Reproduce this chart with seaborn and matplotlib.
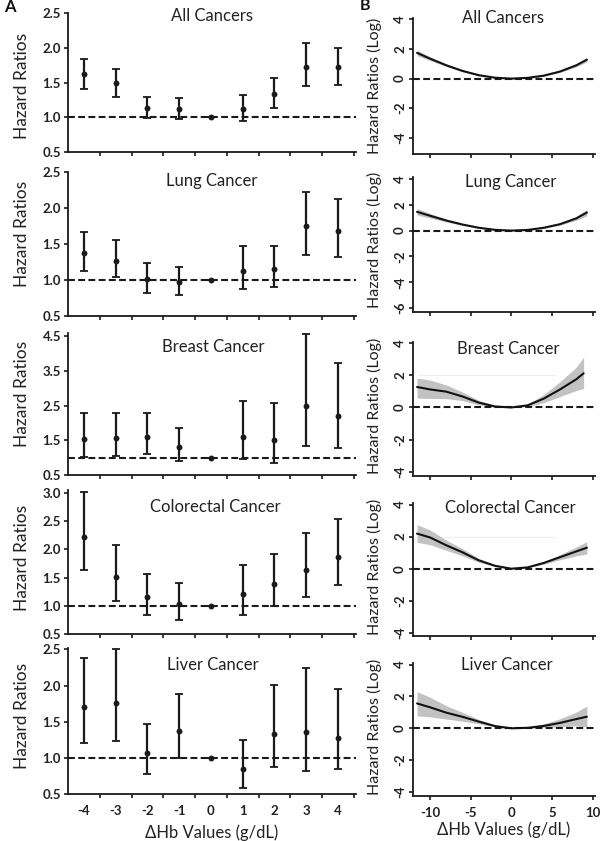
import numpy as np
import pandas as pd
import matplotlib
matplotlib.use("Agg")
import matplotlib.pyplot as plt
import seaborn as sns
from matplotlib.ticker import FixedLocator

# ---------------- data ----------------
dhb_levels = [-4, -3, -2, -1, 0, 1, 2, 3, 4]
cancer_types = ["All Cancers", "Lung Cancer", "Breast Cancer", "Colorectal Cancer", "Liver Cancer"]

# Panel A: hazard ratios with 95% CI by ΔHb level
all_hr = [1.62, 1.49, 1.13, 1.12, 1.00, 1.12, 1.34, 1.73, 1.72]
all_lo = [1.41, 1.29, 0.99, 0.97, 1.00, 0.94, 1.14, 1.45, 1.47]
all_hi = [1.84, 1.70, 1.29, 1.27, 1.00, 1.32, 1.57, 2.07, 2.00]

lung_hr = [1.37, 1.27, 1.01, 0.97, 1.00, 1.13, 1.15, 1.75, 1.68]
lung_lo = [1.13, 1.04, 0.82, 0.79, 1.00, 0.87, 0.90, 1.35, 1.32]
lung_hi = [1.66, 1.55, 1.23, 1.18, 1.00, 1.47, 1.47, 2.22, 2.13]

breast_hr = [1.55, 1.57, 1.60, 1.31, 1.00, 1.60, 1.50, 2.49, 2.20]
breast_lo = [1.02, 1.05, 1.10, 0.90, 1.00, 0.97, 0.86, 1.34, 1.29]
breast_hi = [2.30, 2.30, 2.30, 1.86, 1.00, 2.63, 2.58, 4.58, 3.74]

colo_hr = [2.22, 1.51, 1.15, 1.03, 1.00, 1.21, 1.39, 1.63, 1.86]
colo_lo = [1.63, 1.09, 0.84, 0.75, 1.00, 0.83, 1.00, 1.15, 1.36]
colo_hi = [3.01, 2.07, 1.57, 1.41, 1.00, 1.72, 1.92, 2.29, 2.54]

liver_hr = [1.70, 1.76, 1.07, 1.37, 1.00, 0.84, 1.33, 1.36, 1.28]
liver_lo = [1.21, 1.24, 0.77, 1.00, 1.00, 0.58, 0.88, 0.82, 0.84]
liver_hi = [2.38, 2.51, 1.47, 1.88, 1.00, 1.25, 2.01, 2.24, 1.95]

# Panel B: log hazard ratio curves (read at sampled ΔHb values)
curve_x = [-11.6, -10, -8, -6, -4, -2, 0, 2, 4, 6, 8, 9.3]
breast_curve_x = [-11.6, -10, -8, -6, -4, -2, 0, 2, 4, 6, 8, 8.9]

all_fit = [1.74, 1.35, 0.90, 0.52, 0.23, 0.06, 0.00, 0.05, 0.20, 0.48, 0.90, 1.28]
all_fit_lo = [1.55, 1.22, 0.81, 0.46, 0.19, 0.04, 0.00, 0.03, 0.16, 0.42, 0.80, 1.13]
all_fit_hi = [1.93, 1.48, 0.99, 0.58, 0.27, 0.08, 0.00, 0.07, 0.24, 0.55, 1.01, 1.44]

lung_fit = [1.45, 1.15, 0.78, 0.47, 0.22, 0.06, 0.00, 0.05, 0.22, 0.50, 0.95, 1.40]
lung_fit_lo = [1.20, 0.97, 0.67, 0.40, 0.18, 0.04, 0.00, 0.03, 0.17, 0.42, 0.80, 1.15]
lung_fit_hi = [1.72, 1.33, 0.89, 0.54, 0.26, 0.08, 0.00, 0.07, 0.27, 0.58, 1.10, 1.66]

breast_fit = [1.27, 1.12, 0.98, 0.68, 0.30, 0.06, 0.00, 0.13, 0.55, 1.12, 1.75, 2.12]
breast_fit_lo = [0.58, 0.56, 0.55, 0.42, 0.16, 0.02, 0.00, 0.05, 0.30, 0.68, 1.05, 1.18]
breast_fit_hi = [1.83, 1.70, 1.40, 0.95, 0.45, 0.12, 0.00, 0.22, 0.80, 1.60, 2.50, 3.12]

colo_fit = [2.19, 1.95, 1.46, 1.02, 0.52, 0.18, 0.00, 0.08, 0.36, 0.72, 1.08, 1.31]
colo_fit_lo = [1.65, 1.50, 1.15, 0.80, 0.40, 0.13, 0.00, 0.05, 0.28, 0.56, 0.80, 0.92]
colo_fit_hi = [2.75, 2.42, 1.78, 1.25, 0.64, 0.23, 0.00, 0.11, 0.44, 0.88, 1.36, 1.68]

liver_fit = [1.56, 1.32, 0.98, 0.72, 0.42, 0.14, 0.00, 0.03, 0.15, 0.34, 0.58, 0.73]
liver_fit_lo = [0.78, 0.72, 0.58, 0.45, 0.28, 0.09, 0.00, 0.01, 0.05, 0.10, 0.15, 0.10]
liver_fit_hi = [2.30, 1.95, 1.42, 1.00, 0.56, 0.19, 0.00, 0.06, 0.28, 0.60, 1.02, 1.40]

x_ticks_b = [-10, -5, 0, 5, 10]

# ---------------- style ----------------
sns.set_style("ticks")
plt.rcParams["font.family"] = ["Lato", "DejaVu Sans"]

W, H = 600, 841
fig = plt.figure(figsize=(W / 100, H / 100), dpi=100)
INK = "#1a1a1a"
TXT = "#222222"


def add_ax(l, t, r, b):
    return fig.add_axes([l / W, 1 - b / H, (r - l) / W, (b - t) / H])


rows_A = [(13, 152), (172, 316), (333, 475), (490, 634), (648, 794)]
ylims_A = [(0.5, 2.5), (0.5, 2.5), (0.5, 4.6), (0.5, 3.05), (0.5, 2.52)]
yticks_A = [[0.5, 1.0, 1.5, 2.0, 2.5], [0.5, 1.0, 1.5, 2.0, 2.5],
            [0.5, 1.5, 2.5, 3.5, 4.5], [0.5, 1.0, 1.5, 2.0, 2.5, 3.0],
            [0.5, 1.0, 1.5, 2.0, 2.5]]
title_A_xy = [(212, 16), (212, 181), (213, 347), (215, 507), (213, 665)]
ylab_A_y = [86, 234, 394, 558, 716]

rows_B = [(18, 154), (177, 312), (342, 476), (503, 636), (663, 796)]
ylims_B = [(-5.1, 4.1), (-6.3, 4.15), (-4.25, 4.06), (-4.2, 4.1), (-4.25, 4.1)]
yticks_B = [[-4, -2, 0, 2, 4], [-6, -4, -2, 0, 2, 4], [-4, -2, 0, 2, 4],
            [-4, -2, 0, 2, 4], [-4, -2, 0, 2, 4]]
title_B_xy = [(503, 18), (511, 182), (508, 349), (510, 508), (507, 665)]
ylab_B_y = [86, 240, 406, 567, 727]

hr_sets = [(all_hr, all_lo, all_hi), (lung_hr, lung_lo, lung_hi),
           (breast_hr, breast_lo, breast_hi), (colo_hr, colo_lo, colo_hi),
           (liver_hr, liver_lo, liver_hi)]
fit_sets = [(curve_x, all_fit, all_fit_lo, all_fit_hi),
            (curve_x, lung_fit, lung_fit_lo, lung_fit_hi),
            (breast_curve_x, breast_fit, breast_fit_lo, breast_fit_hi),
            (curve_x, colo_fit, colo_fit_lo, colo_fit_hi),
            (curve_x, liver_fit, liver_fit_lo, liver_fit_hi)]

tick_font = dict(fontsize=9.5, fontweight="bold", color=TXT)
dash = (0, (3.3, 1.6))

for i, name in enumerate(cancer_types):
    # ---------- Panel A ----------
    t, b = rows_A[i]
    ax = add_ax(68, t, 356, b)
    hr, lo, hi = hr_sets[i]
    df = pd.DataFrame({"pos": np.arange(len(dhb_levels)), "hr": hr, "lo": lo, "hi": hi})
    ax.axhline(1.0, color=INK, lw=1.5, ls=dash, zorder=1)
    ax.errorbar(df["pos"], df["hr"], yerr=[df["hr"] - df["lo"], df["hi"] - df["hr"]],
                fmt="none", ecolor=INK, elinewidth=1.6, capsize=2.6, capthick=1.3, zorder=2)
    sns.scatterplot(data=df, x="pos", y="hr", ax=ax, color=INK, s=18,
                    edgecolor=INK, linewidth=0, zorder=3, legend=False)
    ax.set_xlim(-0.5, 8.57)
    ax.set_ylim(*ylims_A[i])
    ax.set_yticks(yticks_A[i])
    ax.set_yticklabels([f"{v:.1f}" for v in yticks_A[i]], **tick_font)
    ax.set_xticks(np.arange(len(dhb_levels)))
    ax.xaxis.set_minor_locator(FixedLocator(np.arange(0.5, 9.0, 1.0)))
    ax.tick_params(axis="x", which="major", length=0, pad=8)
    ax.tick_params(axis="x", which="minor", length=3, width=1.2, color=INK, direction="out")
    ax.tick_params(axis="y", length=3, width=1.2, color=INK, pad=2)
    if i == 4:
        ax.set_xticklabels([str(v) for v in dhb_levels], **tick_font)
        ax.set_xlabel("ΔHb Values (g/dL)", fontsize=12, color=TXT, labelpad=5)
    else:
        ax.set_xticklabels([])
        ax.set_xlabel("")
    ax.set_ylabel("")
    for s in ["top", "right"]:
        ax.spines[s].set_visible(False)
    for s in ["left", "bottom"]:
        ax.spines[s].set_linewidth(1.3)
        ax.spines[s].set_color(INK)
    fig.text(22 / W, 1 - ylab_A_y[i] / H, "Hazard Ratios", rotation=90,
             ha="center", va="center", fontsize=12.5, color=TXT)
    fig.text(title_A_xy[i][0] / W, 1 - title_A_xy[i][1] / H, name,
             ha="center", va="center", fontsize=12, color=TXT)

    # ---------- Panel B ----------
    t, b = rows_B[i]
    bx = add_ax(413, t, 595, b)
    cx, fit, flo, fhi = fit_sets[i]
    dfb = pd.DataFrame({"x": cx, "fit": fit, "lo": flo, "hi": fhi})
    bx.fill_between(dfb["x"], dfb["lo"], dfb["hi"], color="#c2c2c2", lw=0, zorder=1)
    sns.lineplot(data=dfb, x="x", y="fit", ax=bx, color="#111111", lw=1.5, zorder=3)
    bx.axhline(0, color=INK, lw=1.5, ls=dash, zorder=2)
    if i in (2, 3):
        bx.axhline(2, xmin=0.03, xmax=0.78, color="#eeeeee", lw=0.8, zorder=0)
    bx.set_xlim(-12.1, 10.3)
    bx.set_ylim(*ylims_B[i])
    bx.set_yticks(yticks_B[i])
    bx.set_yticklabels([str(v) for v in yticks_B[i]], rotation=90, va="center", **tick_font)
    bx.set_xticks(x_ticks_b)
    bx.tick_params(axis="both", length=3, width=1.2, color=INK, direction="out")
    bx.tick_params(axis="y", pad=2)
    if i == 4:
        bx.set_xticklabels([str(v) for v in x_ticks_b], **tick_font)
        bx.tick_params(axis="x", pad=5)
        bx.set_xlabel("ΔHb Values (g/dL)", fontsize=12, color=TXT, labelpad=2)
    else:
        bx.set_xticklabels([])
        bx.set_xlabel("")
    bx.set_ylabel("")
    for s in ["top", "right"]:
        bx.spines[s].set_visible(False)
    for s in ["left", "bottom"]:
        bx.spines[s].set_linewidth(1.3)
        bx.spines[s].set_color(INK)
    fig.text(374 / W, 1 - ylab_B_y[i] / H, "Hazard Ratios (Log)", rotation=90,
             ha="center", va="center", fontsize=11.5, color=TXT)
    fig.text(title_B_xy[i][0] / W, 1 - title_B_xy[i][1] / H, name,
             ha="center", va="center", fontsize=12, color=TXT)

fig.text(4 / W, 1 - 7 / H, "A", fontsize=12, fontweight="bold", ha="left", va="center", color="#111111")
fig.text(360 / W, 1 - 6 / H, "B", fontsize=11.5, fontweight="bold", ha="left", va="center", color="#111111")

fig.savefig("out.png", dpi=100, facecolor="white")
